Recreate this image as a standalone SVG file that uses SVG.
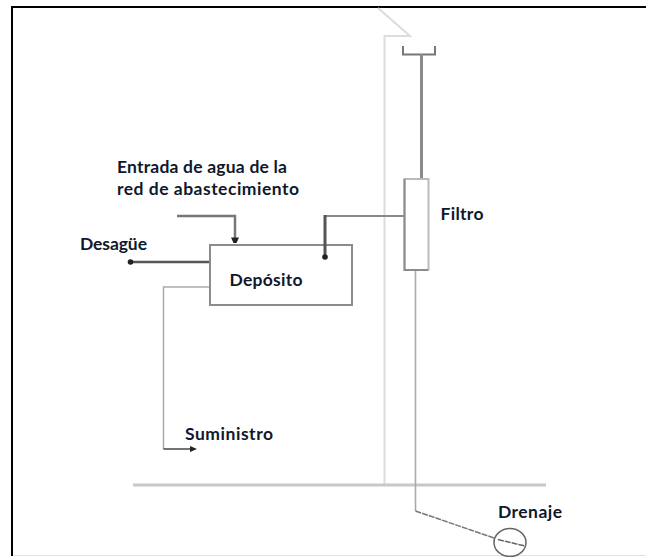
<svg xmlns="http://www.w3.org/2000/svg" width="646" height="557" viewBox="0 0 646 557">
<style>
.t{font-family:"Lato","Open Sans",sans-serif;font-weight:700;font-size:17.500px;fill:#10182c}
.l{fill:none;stroke-linejoin:miter}
</style>
<rect width="646" height="557" fill="#fff"/>
<path d="M12 556V7H646" class="l" stroke="#000" stroke-width="2"/>
<path d="M13 555.500H646" class="l" stroke="#e2e2e2" stroke-width="1"/>
<g id="building">
<path d="M378 8L410 36H384.500V485" class="l" stroke="#dcdcdc" stroke-width="2"/>
<path d="M133 485H546" class="l" stroke="#c8c8c8" stroke-width="3"/>
</g>
<g id="deposito">
<rect x="210" y="245" width="142" height="60" fill="#fff" stroke="#8c8c8c" stroke-width="2"/>
<text x="229.500" y="286" class="t" textLength="73">Depósito</text>
</g>
<g id="filtro">
<rect x="404.500" y="179" width="24" height="91" fill="#fff" stroke="#bbb" stroke-width="2"/>
<path d="M404.500 179V270H428" class="l" stroke="#8c8c8c" stroke-width="2"/>
<text x="440.500" y="220" class="t" textLength="43">Filtro</text>
</g>
<g id="drenaje">
<ellipse cx="510" cy="542.500" rx="16" ry="14" fill="none" stroke="#666" stroke-width="1.500"/>
<text x="498" y="518" class="t" textLength="64">Drenaje</text>
</g>
<g id="labels">
<text x="117" y="173" class="t" textLength="170">Entrada de agua de la</text>
<text x="117" y="195" class="t" textLength="182">red de abastecimiento</text>
<text x="80" y="250" class="t" textLength="67">Desagüe</text>
<text x="185" y="440" class="t" textLength="88">Suministro</text>
</g>
<g id="connectors">
<path d="M403 46V54.500H435V46" class="l" stroke="#777" stroke-width="2"/>
<path d="M421.500 54V178" class="l" stroke="#8a8a8a" stroke-width="3"/>
<path d="M177 216H235V240" class="l" stroke="#777" stroke-width="2.500"/>
<path d="M231 237.500H239L236.500 243H233.500Z" fill="#222"/>
<path d="M325 216H404" class="l" stroke="#888" stroke-width="2"/>
<path d="M325 215V255" class="l" stroke="#555" stroke-width="3"/>
<circle cx="325" cy="257" r="2.800" fill="#222"/>
<path d="M209 262H130" class="l" stroke="#555" stroke-width="2.500"/>
<circle cx="130.500" cy="262" r="2.800" fill="#222"/>
<path d="M209 287H163.500V449" class="l" stroke="#aaa" stroke-width="1.500"/>
<path d="M163.500 449H192" class="l" stroke="#444" stroke-width="1.500"/>
<path d="M197 449L190 446V452Z" fill="#222"/>
<path d="M415.500 271V511" class="l" stroke="#aaa" stroke-width="1.600"/>
<path d="M415.500 511L494 538" class="l" stroke="#777" stroke-width="1.500" stroke-dasharray="6 1"/>
<path d="M498 539.500L525 546" class="l" stroke="#666" stroke-width="1.500" stroke-dasharray="6 1"/>
</g>
</svg>
